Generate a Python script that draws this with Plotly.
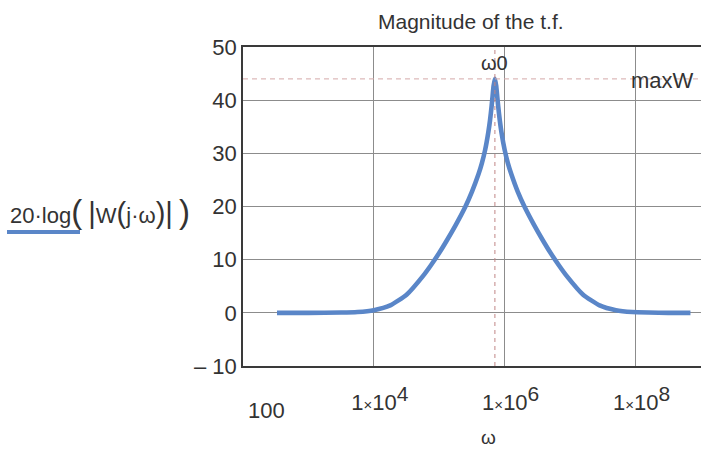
import math
import plotly.graph_objects as go

# ---- data ----
omega = [331, 1000, 3160, 5620, 1.0e4, 1.78e4, 3.16e4, 5.62e4, 7.5e4, 1.0e5,
         1.33e5, 1.78e5, 2.51e5, 3.16e5, 3.98e5, 4.47e5, 5.01e5, 5.62e5, 5.96e5,
         6.31e5, 6.53e5, 6.76e5, 7.08e5, 7.41e5, 7.67e5, 7.94e5, 8.41e5, 8.91e5,
         1.0e6, 1.12e6, 1.26e6, 1.58e6, 2.0e6, 2.82e6, 3.76e6, 5.0e6, 6.68e6,
         8.9e6, 1.58e7, 2.82e7, 5.0e7, 8.9e7, 1.58e8, 3.16e8, 6.9e8]
mag_db = [0.0, 0.0, 0.05, 0.15, 0.5, 1.4, 3.4, 6.9, 9.0, 11.3,
          13.8, 16.5, 20.0, 22.8, 26.1, 28.1, 30.6, 34.0, 36.2,
          38.9, 40.8, 42.7, 44.0, 42.7, 40.8, 38.9, 36.2, 34.0,
          30.6, 28.1, 26.1, 22.8, 20.0, 16.5, 13.8, 11.3, 9.0,
          6.9, 3.4, 1.4, 0.5, 0.15, 0.05, 0.0, 0.0]
omega0 = 7.08e5
max_w = 44.0

x_tickvals = [1e4, 1e6, 1e8]
x_exponents = ["4", "6", "8"]
first_x_label = "100"
y_tickvals = [-10, 0, 10, 20, 30, 40, 50]
y_ticktext = ["– 10", "0", "10", "20", "30", "40", "50"]
x_range_log = [2, 9]
y_range = [-10, 50]

BLUE = "#5a86c8"
TXT = "#333333"
FONT = "Liberation Sans, Arial, sans-serif"

x_ticktext = ["1<span style='font-size:15px'>×</span>10<sup><span style='font-size:21px'>%s</span></sup>" % e
              for e in x_exponents]

fig = go.Figure()
fig.add_trace(go.Scatter(
    x=omega, y=mag_db, mode="lines",
    line=dict(color=BLUE, width=4.6, shape="spline", smoothing=0.5),
    showlegend=False, hoverinfo="skip"))
# omega0 marker (vertical dashed)
fig.add_trace(go.Scatter(
    x=[omega0, omega0], y=y_range, mode="lines",
    line=dict(color="#c08585", width=1, dash="4px,4px"),
    showlegend=False, hoverinfo="skip"))
# maxW marker (horizontal dashed)
fig.add_trace(go.Scatter(
    x=[10 ** x_range_log[0], 10 ** x_range_log[1]], y=[max_w, max_w], mode="lines",
    line=dict(color="#d4a8a8", width=1, dash="5px,4px"),
    showlegend=False, hoverinfo="skip"))

W, H = 701, 455
L, R, T, B = 243, 0, 47, 89
pw, ph = W - L - R, H - T - B

def px_x(px):
    return (px - L) / pw

def px_y(py):
    return (H - B - py) / ph

big = "<span style='font-size:33px'>%s</span>"
mid = "<span style='font-size:29px'>%s</span>"
legend_label = ("20·log" + big % "(" + "\u00a0" + mid % "|" + "W" + mid % "(" + "j·ω"
                + mid % ")" + mid % "|" + "\u00a0" + big % ")")

fig.update_layout(
    width=W, height=H,
    margin=dict(l=L, r=R, t=T, b=B, pad=0),
    paper_bgcolor="white", plot_bgcolor="white",
    font=dict(family=FONT, color=TXT),
    xaxis=dict(type="log", range=x_range_log, tickvals=x_tickvals, ticktext=x_ticktext,
               showgrid=True, gridcolor="#8c8c8c", gridwidth=1,
               showline=True, linecolor="#3a3a3a", linewidth=1.6, mirror=True,
               ticks="", tickfont=dict(size=22, color=TXT, family=FONT),
               ticklabelstandoff=16, ticklabelshift=6, zeroline=False),
    yaxis=dict(range=y_range, tickvals=y_tickvals, ticktext=y_ticktext,
               showgrid=True, gridcolor="#8c8c8c", gridwidth=1,
               showline=True, linecolor="#3a3a3a", linewidth=1.6, mirror=False,
               ticks="", tickfont=dict(size=22, color=TXT, family=FONT),
               zeroline=False),
    shapes=[dict(type="line", xref="paper", yref="paper",
                 x0=px_x(7), x1=px_x(80), y0=px_y(232), y1=px_y(232),
                 line=dict(color=BLUE, width=4))],
    annotations=[
        dict(text="Magnitude of the t.f.", xref="paper", yref="paper",
             x=px_x(471), y=px_y(22), xanchor="center", yanchor="middle",
             showarrow=False, font=dict(size=21, color=TXT)),
        dict(text="ω0", xref="x", yref="y", x=math.log10(omega0), y=max_w,
             xanchor="center", yanchor="bottom", yshift=3, showarrow=False,
             font=dict(size=20, color=TXT)),
        dict(text="maxW", xref="paper", yref="y", x=1, y=max_w,
             xanchor="right", yanchor="middle", xshift=-5, yshift=-2, showarrow=False,
             font=dict(size=22, color=TXT)),
        dict(text=first_x_label, xref="x", yref="paper", x=x_range_log[0], y=px_y(410),
             xanchor="left", yanchor="middle", xshift=3, showarrow=False,
             font=dict(size=22, color=TXT)),
        dict(text="ω", xref="paper", yref="paper", x=px_x(488), y=px_y(437),
             xanchor="center", yanchor="middle", showarrow=False,
             font=dict(size=19, color=TXT)),
        dict(text=legend_label,
             xref="paper", yref="paper", x=px_x(8), y=px_y(212),
             xanchor="left", yanchor="middle", showarrow=False,
             font=dict(size=22, color=TXT)),
    ],
)

fig.write_html("out.html")
